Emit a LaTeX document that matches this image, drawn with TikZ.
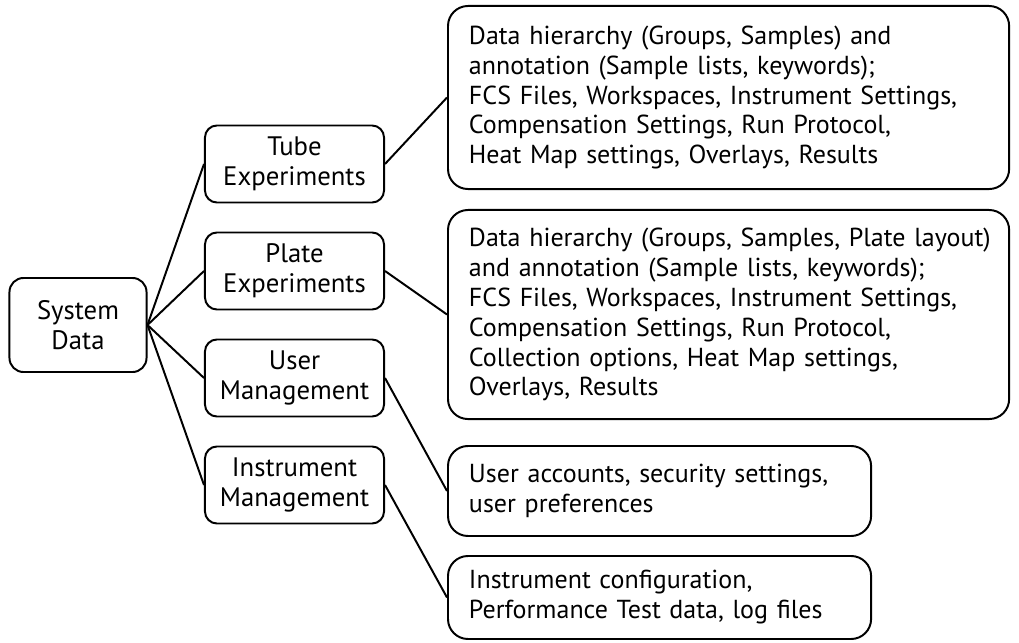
\documentclass[tikz,border=0pt]{standalone}
\usepackage{fontspec}
\setmainfont{PT Sans}
\usepackage{tikz}
\usetikzlibrary{positioning}

\begin{document}
\begin{tikzpicture}[x=0.025cm,y=-0.025cm,
        every node/.style={draw,line width=1.4pt,align=center,inner sep=0pt,
          font=\fontsize{19}{21.3}\selectfont},
        topbox/.style={rounded corners=0.35cm,minimum width=3.425cm,minimum height=2.35cm},
        midbox/.style={rounded corners=0.3cm,minimum width=4.475cm,minimum height=1.925cm},
        infobox/.style={rounded corners=0.5cm,align=left,inner xsep=0.2cm,anchor=north west,
          font=\fontsize{18.5}{21.3}\selectfont,
          execute at begin node={\leftskip=0.325cm\relax}},
        link/.style={line width=1.4pt}]
        \useasboundingbox (0,0) rectangle (1019,643);
        % root
        \node[topbox] (sysdata) at (78,325) {System\\Data};
        % second level
        \node[midbox] (tube) at (294.5,164) {Tube\\Experiments};
        \node[midbox] (plate) at (294.5,271) {Plate\\Experiments};
        \node[midbox] (user) at (294.5,378) {User\\Management};
        \node[midbox] (instr) at (294.5,485) {Instrument\\Management};
        % details
        \node[infobox,text width=13.625cm,minimum height=4.575cm] (tubeinfo) at (447,5)
          {Data hierarchy (Groups, Samples) and\\
           annotation (Sample lists, keywords);\\
           FCS Files, Workspaces, Instrument Settings,\\
           Compensation Settings, Run Protocol,\\
           Heat Map settings, Overlays, Results};
        \node[infobox,text width=13.625cm,minimum height=5.225cm] (plateinfo) at (447,209)
          {Data hierarchy (Groups, Samples, Plate layout)\\
           and annotation (Sample lists, keywords);\\
           FCS Files, Workspaces, Instrument Settings,\\
           Compensation Settings, Run Protocol,\\
           Collection options, Heat Map settings,\\
           Overlays, Results};
        \node[infobox,text width=10.175cm,minimum height=2.25cm] (userinfo) at (447,445)
          {User accounts, security settings,\\
           user preferences};
        \node[infobox,text width=10.175cm,minimum height=2.075cm] (instrinfo) at (447,555)
          {Instrument configuration,\\
           Performance Test data, log files};
        % connectors
        \foreach \n in {tube,plate,user,instr}
          \draw[link] (sysdata.east) -- (\n.west);
        \draw[link] (tube.east) -- (tubeinfo.west);
        \draw[link] (plate.east) -- (plateinfo.west);
        \draw[link] (user.east) -- (userinfo.west);
        \draw[link] (instr.east) -- (instrinfo.west);
      \end{tikzpicture}
\end{document}
